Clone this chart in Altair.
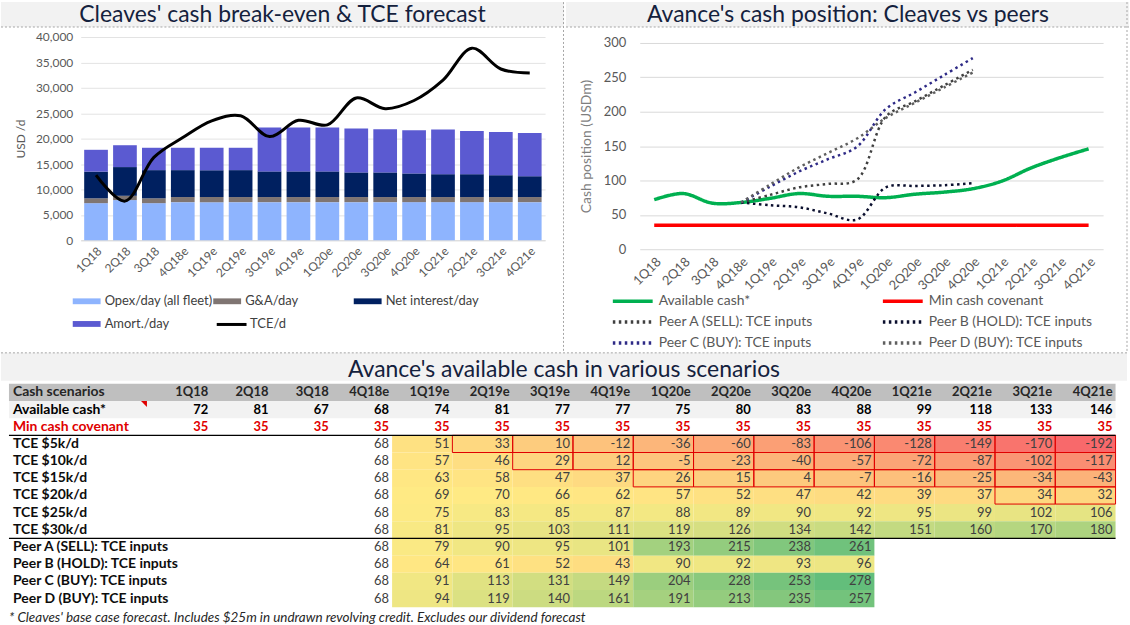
import altair as alt
import pandas as pd

FONT = "Lato"

# ---------------- data ----------------
quarters = ["1Q18", "2Q18", "3Q18", "4Q18e", "1Q19e", "2Q19e", "3Q19e", "4Q19e",
            "1Q20e", "2Q20e", "3Q20e", "4Q20e", "1Q21e", "2Q21e", "3Q21e", "4Q21e"]

# left chart: cash break-even components (USD/day)
opex_day = [7300, 7900, 7300, 7500, 7500, 7500, 7500, 7500, 7500, 7500, 7500, 7500, 7500, 7500, 7500, 7500]
ga_day = [950, 850, 950, 1000, 1000, 1000, 1000, 1000, 1000, 1000, 1000, 1000, 1000, 1000, 1000, 1000]
net_interest_day = [5250, 5650, 5550, 5300, 5300, 5300, 5050, 5050, 5050, 4850, 4850, 4650, 4500, 4500, 4300, 4100]
amort_day = [4300, 4300, 4400, 4400, 4400, 4400, 8650, 8650, 8650, 8650, 8500, 8500, 8800, 8500, 8500, 8500]
tce_day = [12800, 7700, 16300, 20200, 23500, 24500, 20400, 23600, 22700, 28000, 25900, 27500, 31500, 37800, 33700, 32900]

cost_names = ["Opex/day (all fleet)", "G&A/day", "Net interest/day", "Amort./day"]
cost_colors = ["#8EB4FE", "#7F7572", "#002060", "#5B5AD1"]

# cash (USDm)
available_cash = [72, 81, 67, 68, 74, 81, 77, 77, 75, 80, 83, 88, 99, 118, 133, 146]
min_covenant = [35, 35, 35, 35, 35, 35, 35, 35, 35, 35, 35, 35, 35, 35, 35, 35]
# scenario rows start at 4Q18e
tce5 = [68, 51, 33, 10, -12, -36, -60, -83, -106, -128, -149, -170, -192]
tce10 = [68, 57, 46, 29, 12, -5, -23, -40, -57, -72, -87, -102, -117]
tce15 = [68, 63, 58, 47, 37, 26, 15, 4, -7, -16, -25, -34, -43]
tce20 = [68, 69, 70, 66, 62, 57, 52, 47, 42, 39, 37, 34, 32]
tce25 = [68, 75, 83, 85, 87, 88, 89, 90, 92, 95, 99, 102, 106]
tce30 = [68, 81, 95, 103, 111, 119, 126, 134, 142, 151, 160, 170, 180]
peer_a = [68, 79, 90, 95, 101, 193, 215, 238, 261]
peer_b = [68, 64, 61, 52, 43, 90, 92, 93, 96]
peer_c = [68, 91, 113, 131, 149, 204, 228, 253, 278]
peer_d = [68, 94, 119, 140, 161, 191, 213, 235, 257]

cash_series = ["Available cash*", "Min cash covenant", "Peer A (SELL): TCE inputs",
               "Peer B (HOLD): TCE inputs", "Peer C (BUY): TCE inputs", "Peer D (BUY): TCE inputs"]
cash_colors = ["#00B050", "#FF0000", "#404040", "#0B0F2E", "#2E2A86", "#5F5F5F"]
cash_dashes = [[1, 0], [1, 0], [2.5, 3.5], [2.5, 3.5], [2.5, 3.5], [2.5, 3.5]]

tbl_labels = ["Cash scenarios", "Available cash*", "Min cash covenant", "TCE $5k/d", "TCE $10k/d",
              "TCE $15k/d", "TCE $20k/d", "TCE $25k/d", "TCE $30k/d", "Peer A (SELL): TCE inputs",
              "Peer B (HOLD): TCE inputs", "Peer C (BUY): TCE inputs", "Peer D (BUY): TCE inputs"]
footnote = "* Cleaves' base case forecast. Includes $25m in undrawn revolving credit. Excludes our dividend forecast"

deco = pd.DataFrame({"d": [0]})
SEP = "#A6A6A6"
TITLE_C = "#14213D"
TITLE_SIZE = 23

# ---------------- left chart (origin 80,41) ----------------
rows = []
for i, q in enumerate(quarters):
    for k, arr in enumerate([opex_day, ga_day, net_interest_day, amort_day]):
        rows.append({"q": q, "comp": cost_names[k], "k": k, "v": arr[i]})
bars_df = pd.DataFrame(rows)
tce_df = pd.DataFrame({"q": quarters, "v": tce_day, "s": ["TCE/d"] * len(quarters)})

x_l = alt.X("q:N", sort=quarters, scale=alt.Scale(paddingInner=0.18, paddingOuter=0.12),
            axis=alt.Axis(title=None, labelAngle=-45, labelFont=FONT, labelFontSize=12,
                          labelColor="#595959", ticks=False, domainColor="#D9D9D9", labelPadding=5,
                          offset=-9))
y_scale_l = alt.Scale(domain=[0, 40000], range=[198, -6], nice=False)
y_axis_l = alt.Axis(values=[0, 5000, 10000, 15000, 20000, 25000, 30000, 35000, 40000],
                    labelExpr="format(datum.value, ',')", title="USD /d", titleFont=FONT,
                    titleFontSize=12, titleFontWeight="normal", titleColor="#595959", labelFont=FONT,
                    labelFontSize=12, labelColor="#595959", ticks=False, domain=False,
                    gridColor="#E3E3E3", labelPadding=8, titlePadding=8)

bar_path = "M-1,-0.45H3.3V0.45H-1Z"
bars = alt.Chart(bars_df).mark_bar().encode(
    x=x_l,
    y=alt.Y("v:Q", stack="zero", scale=y_scale_l, axis=y_axis_l),
    color=alt.Color("comp:N", scale=alt.Scale(domain=cost_names, range=cost_colors),
                    legend=alt.Legend(title=None, orient="none", legendX=-8, legendY=252.5, columns=3,
                                      direction="horizontal", symbolType=bar_path, symbolSize=169,
                                      symbolStrokeWidth=0, labelFont=FONT, labelFontSize=13,
                                      labelColor="#404040", gridAlign="all", columnPadding=0,
                                      rowPadding=9, padding=0, labelOffset=19, labelLimit=300)),
    order=alt.Order("k:Q", sort="ascending"),
)
tce_line = alt.Chart(tce_df).mark_line(interpolate="catmull-rom", strokeWidth=3).encode(
    x=x_l,
    y=alt.Y("v:Q", scale=y_scale_l, axis=y_axis_l),
    stroke=alt.Stroke("s:N", scale=alt.Scale(domain=["TCE/d"], range=["#000000"]),
                      legend=alt.Legend(title=None, orient="none", legendX=135, legendY=274.5,
                                        symbolType="M-1,0H3.6", symbolSize=169, symbolStrokeWidth=3,
                                        labelFont=FONT, labelFontSize=13, labelColor="#404040",
                                        padding=0, labelOffset=19)),
)
band_l = alt.Chart(deco).mark_rect(color="#F2F2F2").encode(
    x=alt.value(-80), x2=alt.value(485), y=alt.value(-41), y2=alt.value(-16))
title_l = alt.Chart(deco).mark_text(text="Cleaves' cash break-even & TCE forecast", font=FONT,
                                    fontSize=TITLE_SIZE, color=TITLE_C, align="center",
                                    baseline="middle").encode(x=alt.value(202.5), y=alt.value(-28))
sep_l1 = alt.Chart(deco).mark_rule(color=SEP, strokeDash=[2, 2]).encode(
    x=alt.value(-80), x2=alt.value(485), y=alt.value(-16))
sep_l2 = alt.Chart(deco).mark_rule(color=SEP, strokeDash=[2, 2]).encode(
    x=alt.value(484.5), y=alt.value(-41), y2=alt.value(309))
left = alt.layer(band_l, title_l, sep_l1, sep_l2, bars, tce_line).properties(width=466, height=207)

# ---------------- right chart (origin 639,41) ----------------
crow = []
for s, arr, start in [(cash_series[0], available_cash, 0), (cash_series[1], min_covenant, 0),
                      (cash_series[2], peer_a, 3), (cash_series[3], peer_b, 3),
                      (cash_series[4], peer_c, 3), (cash_series[5], peer_d, 3)]:
    for j, v in enumerate(arr):
        crow.append({"s": s, "q": quarters[start + j], "v": v})
cash_df = pd.DataFrame(crow)

cash_legend = alt.Legend(title=None, orient="none", legendX=-29, legendY=250.5, columns=2,
                         direction="horizontal", symbolType="M-1,0H5.15", symbolSize=169,
                         symbolStrokeWidth=3.5, labelFont=FONT, labelFontSize=14, labelColor="#595959",
                         gridAlign="all", columnPadding=53, rowPadding=5, padding=0, labelOffset=31,
                         labelLimit=300)
x_r = alt.X("q:N", sort=quarters, scale=alt.Scale(type="point", padding=0.5),
            axis=alt.Axis(title=None, labelAngle=-45, labelFont=FONT, labelFontSize=13,
                          labelColor="#595959", ticks=False, domain=False, labelPadding=6))
y_r = alt.Y("v:Q", scale=alt.Scale(domain=[0, 300], nice=False),
            axis=alt.Axis(values=[0, 50, 100, 150, 200, 250, 300], title="Cash position (USDm)",
                          titleFont=FONT, titleFontSize=14, titleFontWeight="normal", titleColor="#7F7F7F",
                          labelFont=FONT, labelFontSize=13, labelColor="#595959", ticks=False,
                          domain=False, gridColor="#D9D9D9", labelPadding=14, titlePadding=10))
col_r = alt.Color("s:N", scale=alt.Scale(domain=cash_series, range=cash_colors), legend=cash_legend)
dash_r = alt.StrokeDash("s:N", scale=alt.Scale(domain=cash_series, range=cash_dashes), legend=cash_legend)

solid = alt.Chart(cash_df).transform_filter(
    alt.FieldOneOfPredicate(field="s", oneOf=cash_series[:2])
).mark_line(interpolate="catmull-rom", strokeWidth=3.5).encode(x=x_r, y=y_r, color=col_r, strokeDash=dash_r)
dotted = alt.Chart(cash_df).transform_filter(
    alt.FieldOneOfPredicate(field="s", oneOf=cash_series[2:])
).mark_line(interpolate="catmull-rom", strokeWidth=2.5).encode(x=x_r, y=y_r, color=col_r, strokeDash=dash_r)

band_r = alt.Chart(deco).mark_rect(color="#F2F2F2").encode(
    x=alt.value(-74), x2=alt.value(491), y=alt.value(-41), y2=alt.value(-16))
title_r = alt.Chart(deco).mark_text(text="Avance's cash position: Cleaves vs peers", font=FONT,
                                    fontSize=TITLE_SIZE, color=TITLE_C, align="center",
                                    baseline="middle").encode(x=alt.value(209), y=alt.value(-28))
sep_r1 = alt.Chart(deco).mark_rule(color=SEP, strokeDash=[2, 2]).encode(
    x=alt.value(-74), x2=alt.value(491), y=alt.value(-16))
sep_r2 = alt.Chart(deco).mark_rule(color=SEP, strokeDash=[2, 2]).encode(
    x=alt.value(489), y=alt.value(-41), y2=alt.value(309))
right = alt.layer(band_r, title_r, sep_r1, sep_r2, solid, dotted).properties(width=465, height=207)

# ---------------- table (origin 80,381) ----------------
XL = -2.355
xs = alt.Scale(domain=[XL, 16], range=[-72, 1038.5], nice=False, zero=False)
ys = alt.Scale(domain=[0, 13], nice=False, zero=False, reverse=True)

label_colors = ["#262626", "#000000", "#E00000"] + ["#0D0D0D"] * 10
lab_df = pd.DataFrame({"x": [XL] * 13, "y": [r + 0.5 for r in range(13)], "t": tbl_labels, "c": label_colors})

top_rows = []
for i, q in enumerate(quarters):
    top_rows.append({"x": i + 1, "y": 0.5, "t": q, "c": "#262626"})
    top_rows.append({"x": i + 1, "y": 1.5, "t": str(available_cash[i]), "c": "#000000"})
    top_rows.append({"x": i + 1, "y": 2.5, "t": str(min_covenant[i]), "c": "#E00000"})
top_df = pd.DataFrame(top_rows)

cells = []
for r, arr in enumerate([tce5, tce10, tce15, tce20, tce25, tce30, peer_a, peer_b, peer_c, peer_d]):
    row = r + 3
    for j, v in enumerate(arr):
        col = 3 + j
        cells.append({"x0": col, "x1": col + 1, "y0": row, "y1": row + 1, "xt": col + 1,
                      "yt": row + 0.5, "v": v, "t": str(v), "heat": col >= 4,
                      "border": (col >= 4) and (v < 35)})
cell_df = pd.DataFrame(cells)

bg_df = pd.DataFrame({"x0": [XL, XL], "x1": [16, 16], "y0": [0, 1], "y1": [1, 2],
                      "c": ["#BFBFBF", "#F2F2F2"]})
bg = alt.Chart(bg_df).mark_rect().encode(
    x=alt.X("x0:Q", scale=xs, axis=None), x2="x1:Q",
    y=alt.Y("y0:Q", scale=ys, axis=None), y2="y1:Q",
    color=alt.Color("c:N", scale=None))
heat = alt.Chart(cell_df).transform_filter("datum.heat").mark_rect().encode(
    x=alt.X("x0:Q", scale=xs, axis=None), x2="x1:Q",
    y=alt.Y("y0:Q", scale=ys, axis=None), y2="y1:Q",
    fill=alt.Fill("v:Q", scale=alt.Scale(domain=[-192, 72, 278],
                                         range=["#F8696B", "#FFEB84", "#63BE7B"], interpolate="rgb"),
                  legend=None))
borders = alt.Chart(cell_df).transform_filter("datum.border").mark_rect(
    filled=False, stroke="#E00000", strokeWidth=1).encode(
    x=alt.X("x0:Q", scale=xs, axis=None), x2="x1:Q",
    y=alt.Y("y0:Q", scale=ys, axis=None), y2="y1:Q")
rule_df = pd.DataFrame({"x0": [XL, XL], "x1": [16, 16], "y": [3, 9]})
rules = alt.Chart(rule_df).mark_rule(color="#000000", strokeWidth=1.3).encode(
    x=alt.X("x0:Q", scale=xs, axis=None), x2="x1:Q",
    y=alt.Y("y:Q", scale=ys, axis=None))
# comment marker (red corner triangle) in the "Available cash*" label cell
marker_df = pd.DataFrame({"x": [0], "y": [1]})
marker = alt.Chart(marker_df).mark_point(shape="M-1,-1L1,-1L1,1Z", size=36, filled=True,
                                         color="#E00000", opacity=1, xOffset=-7, yOffset=3).encode(
    x=alt.X("x:Q", scale=xs, axis=None), y=alt.Y("y:Q", scale=ys, axis=None))
labels = alt.Chart(lab_df).mark_text(align="left", baseline="middle", dx=4, font=FONT,
                                     fontSize=14, fontWeight="bold").encode(
    x=alt.X("x:Q", scale=xs, axis=None), y=alt.Y("y:Q", scale=ys, axis=None),
    text="t:N", color=alt.Color("c:N", scale=None))
top_txt = alt.Chart(top_df).mark_text(align="right", baseline="middle", dx=-3, font=FONT,
                                      fontSize=13, fontWeight="bold").encode(
    x=alt.X("x:Q", scale=xs, axis=None), y=alt.Y("y:Q", scale=ys, axis=None),
    text="t:N", color=alt.Color("c:N", scale=None))
body_txt = alt.Chart(cell_df).mark_text(align="right", baseline="middle", dx=-3, font=FONT,
                                        fontSize=13, color="#404040").encode(
    x=alt.X("xt:Q", scale=xs, axis=None), y=alt.Y("yt:Q", scale=ys, axis=None), text="t:N")

band_t = alt.Chart(deco).mark_rect(color="#F2F2F2").encode(
    x=alt.value(-80), x2=alt.value(1050), y=alt.value(-31), y2=alt.value(-3))
sep_t = alt.Chart(deco).mark_rule(color=SEP, strokeDash=[2, 2]).encode(
    x=alt.value(-80), x2=alt.value(1050), y=alt.value(-31))
title_t = alt.Chart(deco).mark_text(text="Avance's available cash in various scenarios", font=FONT,
                                    fontSize=TITLE_SIZE, color=TITLE_C, align="center",
                                    baseline="middle").encode(x=alt.value(485), y=alt.value(-14))
foot = alt.Chart(deco).mark_text(text=footnote, font=FONT, fontSize=13.5, fontStyle="italic",
                                 color="#262626", align="left", baseline="middle").encode(
    x=alt.value(-72), y=alt.value(235))
table = alt.layer(band_t, sep_t, title_t, bg, heat, borders, rules, marker, labels, top_txt,
                  body_txt, foot).properties(width=1038.5, height=224.25)

top = alt.hconcat(left, right, spacing=0).resolve_scale(color="independent", strokeDash="independent")
chart = alt.vconcat(top, table, spacing=0).properties(
    padding=0, background="white"
).configure_view(stroke=None).configure_concat(spacing=0)

chart.save("out.html", embed_options={"renderer": "svg", "actions": False})
